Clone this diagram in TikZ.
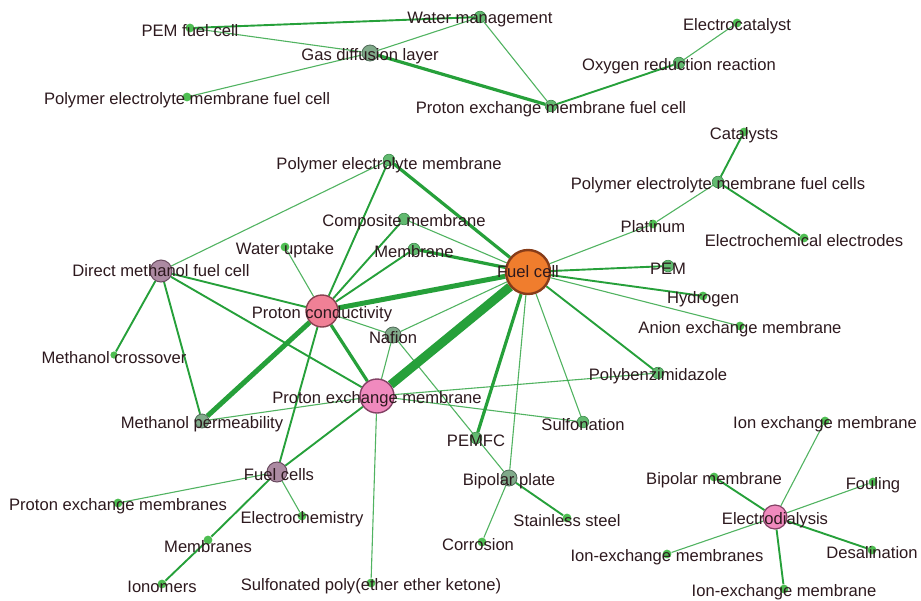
\documentclass[tikz,border=0pt]{standalone}
\usepackage{fontspec}
\setmainfont{Liberation Sans}
\usetikzlibrary{positioning}
\pgfdeclarelayer{bg}
\pgfsetlayers{bg,main}
\definecolor{edgegreen}{RGB}{38,160,58}
\definecolor{txtcol}{RGB}{45,25,30}
\definecolor{dotgreen}{RGB}{78,190,82}
\definecolor{midgreen}{RGB}{98,186,112}
\definecolor{midline}{RGB}{60,140,75}
\definecolor{greygreen}{RGB}{128,170,138}
\definecolor{greyline}{RGB}{80,105,88}
\definecolor{mauve}{RGB}{172,138,162}
\definecolor{mauveline}{RGB}{105,75,95}
\definecolor{salmon}{RGB}{240,128,150}
\definecolor{salmonline}{RGB}{135,65,80}
\definecolor{pinky}{RGB}{240,138,190}
\definecolor{pinkyline}{RGB}{130,65,100}
\definecolor{fcorange}{RGB}{240,125,45}
\definecolor{fcline}{RGB}{135,60,25}
\tikzset{
  every label/.style={font=\fontsize{8.3}{9.5}\selectfont, text=txtcol, inner sep=0pt, yshift=-1.5pt},
  sdot/.style={circle, fill=dotgreen, inner sep=0pt, minimum size=4.4pt},
  mdot/.style={circle, fill=midgreen, draw=midline, line width=0.3pt, inner sep=0pt, minimum size=5.8pt},
  gdot/.style={circle, fill=greygreen, draw=greyline, line width=0.4pt, inner sep=0pt, minimum size=#1},
  vdot/.style={circle, fill=mauve, draw=mauveline, line width=0.5pt, inner sep=0pt, minimum size=#1},
  e1/.style={draw=edgegreen, line width=0.55pt, opacity=0.8},
  e2/.style={draw=edgegreen, line width=0.95pt},
  e3/.style={draw=edgegreen, line width=1.6pt},
  e4/.style={draw=edgegreen, line width=2.5pt},
  e5/.style={draw=edgegreen, line width=4.5pt}
}
\begin{document}
\begin{tikzpicture}[x=0.5pt,y=-0.5pt]
  \useasboundingbox (0,0) rectangle (921,600);

  % top cluster
  \node[sdot, label=center:PEM fuel cell] (pemfca) at (190,28) {};
  \node[mdot, label=center:Water management] (watman) at (480,17) {};
  \node[gdot=8pt, label=center:Gas diffusion layer] (gdl) at (370,53) {};
  \node[sdot, label=center:Polymer electrolyte membrane fuel cell] (pemfcb) at (187,97) {};
  \node[sdot, label=center:Electrocatalyst] (ecat) at (737,23) {};
  \node[mdot, label=center:Oxygen reduction reaction] (orr) at (679,63) {};
  \node[mdot, label=center:Proton exchange membrane fuel cell] (pemfcc) at (551,106) {};

  % right cluster
  \node[sdot, label=center:Catalysts] (cats) at (744,132) {};
  \node[mdot, label=center:Polymer electrolyte membrane fuel cells] (pemfcs) at (718,182) {};
  \node[sdot, label=center:Platinum] (plat) at (653,224) {};
  \node[sdot, label=center:Electrochemical electrodes] (eelec) at (804,238) {};
  \node[mdot, label=center:PEM] (pem) at (668,266) {};
  \node[sdot, label=center:Hydrogen] (hyd) at (703,296) {};
  \node[sdot, label=center:Anion exchange membrane] (aem) at (740,326) {};
  \node[mdot, label=center:Polybenzimidazole] (pbi) at (658,373) {};
  \node[mdot, label=center:Sulfonation] (sulf) at (583,422) {};

  % electrodialysis
  \node[sdot, label=center:Ion exchange membrane] (iem) at (825,421) {};
  \node[sdot, label=center:Bipolar membrane] (bpm) at (714,477) {};
  \node[sdot, label=center:Fouling] (foul) at (873,482) {};
  \node[circle, fill=pinky, draw=pinkyline, line width=0.6pt, inner sep=0pt, minimum size=12pt, label=center:Electrodialysis] (ed) at (775,517) {};
  \node[sdot, label=center:Desalination] (desal) at (872,550) {};
  \node[sdot, label=center:Ion-exchange membranes] (iemsa) at (667,554) {};
  \node[sdot, label=center:Ion-exchange membrane] (iemb) at (784,589) {};

  % bipolar plate
  \node[gdot=8pt, label=center:Bipolar plate] (bpp) at (509,478) {};
  \node[sdot, label=center:Stainless steel] (steel) at (567,518) {};
  \node[sdot, label={[xshift=-2pt]center:Corrosion}] (corr) at (482,542) {};
  \node[mdot, label=center:PEMFC] (pemfcd) at (476,438) {};

  % bottom left
  \node[sdot, label=center:Sulfonated poly(ether ether ketone)] (speek) at (371,583) {};
  \node[sdot, label=center:Ionomers] (iono) at (162,584) {};
  \node[sdot, label={[yshift=-2pt]center:Membranes}] (mems) at (208,540) {};
  \node[sdot, label=center:Electrochemistry] (echem) at (302,516) {};
  \node[sdot, label=center:Proton exchange membranes] (pems) at (118,503) {};
  \node[vdot=10pt, label={[xshift=1pt]center:Fuel cells}] (fcs) at (277,472) {};
  \node[gdot=7pt, label=center:Methanol permeability] (mperm) at (202,421) {};
  \node[sdot, minimum size=3.6pt, label=center:Methanol crossover] (mcross) at (114,355) {};

  % centre
  \node[circle, fill=pinky, draw=pinkyline, line width=0.7pt, inner sep=0pt, minimum size=17pt, label=center:Proton exchange membrane] (pexm) at (377,396) {};
  \node[gdot=8pt, label=center:Nafion] (naf) at (393,335) {};
  \node[circle, fill=salmon, draw=salmonline, line width=0.7pt, inner sep=0pt, minimum size=16pt, label=center:Proton conductivity] (pcond) at (322,311) {};
  \node[vdot=11pt, label={[yshift=1.5pt]center:Direct methanol fuel cell}] (dmfc) at (161,271) {};
  \node[sdot, label=center:Water uptake] (wup) at (285,247) {};
  \node[mdot, label=center:Membrane] (mem) at (414,249) {};
  \node[mdot, label=center:Composite membrane] (comp) at (404,219) {};
  \node[mdot, label={[yshift=-1pt]center:Polymer electrolyte membrane}] (pelm) at (389,160) {};
  \node[circle, fill=fcorange, draw=fcline, line width=1.2pt, inner sep=0pt, minimum size=22pt, label={[yshift=1.5pt]center:Fuel cell}] (fc) at (528,272) {};

  \begin{pgfonlayer}{bg}
    \draw[e2] (pemfca) -- (watman);
    \draw[e1] (pemfca) -- (gdl);
    \draw[e1] (watman) -- (gdl);
    \draw[e1] (watman) -- (pemfcc);
    \draw[e1] (gdl) -- (pemfcb);
    \draw[e3] (gdl) -- (pemfcc);
    \draw[e2] (pemfcc) -- (orr);
    \draw[e1] (orr) -- (ecat);
    \draw[e2] (cats) -- (pemfcs);
    \draw[e2] (pemfcs) -- (eelec);
    \draw[e1] (pemfcs) -- (plat);
    \draw[e1] (plat) -- (fc);
    \draw[e2] (fc) -- (pem);
    \draw[e2] (fc) -- (hyd);
    \draw[e1] (fc) -- (aem);
    \draw[e2] (fc) -- (pbi);
    \draw[e1] (fc) -- (sulf);
    \draw[e1] (fc) -- (bpp);
    \draw[e3] (fc) -- (pemfcd);
    \draw[e5] (fc) -- (pexm);
    \draw[e4] (fc) -- (pcond);
    \draw[e3] (fc) -- (mem);
    \draw[e1] (fc) -- (comp);
    \draw[e3] (fc) -- (pelm);
    \draw[e1] (fc) -- (naf);
    \draw[e1] (dmfc) -- (pelm);
    \draw[e2] (dmfc) -- (pcond);
    \draw[e2] (dmfc) -- (pexm);
    \draw[e2] (dmfc) -- (mcross);
    \draw[e2] (dmfc) -- (mperm);
    \draw[e4] (pcond) -- (mperm);
    \draw[e2] (pcond) -- (pelm);
    \draw[e2] (pcond) -- (comp);
    \draw[e2] (pcond) -- (mem);
    \draw[e1] (pcond) -- (wup);
    \draw[e1] (pcond) -- (naf);
    \draw[e3] (pcond) -- (pexm);
    \draw[e2] (pcond) -- (fcs);
    \draw[e1] (pexm) -- (mperm);
    \draw[e1] (pexm) -- (pbi);
    \draw[e1] (pexm) -- (sulf);
    \draw[e2] (pexm) -- (fcs);
    \draw[e1] (pexm) -- (speek);
    \draw[e1] (pexm) -- (naf);
    \draw[e1] (naf) -- (bpp);
    \draw[e1] (fcs) -- (pems);
    \draw[e1] (fcs) -- (echem);
    \draw[e2] (fcs) -- (mems);
    \draw[e2] (mems) -- (iono);
    \draw[e2] (bpp) -- (steel);
    \draw[e1] (bpp) -- (corr);
    \draw[e1] (ed) -- (iem);
    \draw[e2] (ed) -- (bpm);
    \draw[e1] (ed) -- (foul);
    \draw[e2] (ed) -- (desal);
    \draw[e1] (ed) -- (iemsa);
    \draw[e2] (ed) -- (iemb);
  \end{pgfonlayer}
\end{tikzpicture}
\end{document}
